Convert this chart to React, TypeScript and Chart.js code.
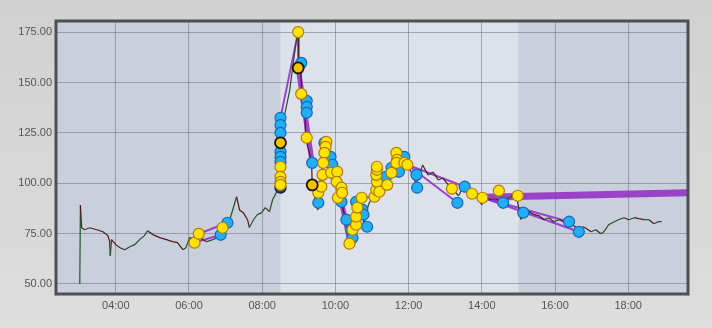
import React, { useEffect, useRef } from "react";
import { Chart, registerables } from "chart.js";

Chart.register(...registerables);

// ---- axis settings / labels ----
const yTickValues = [50, 75, 100, 125, 150, 175];
const xTickHours = [4, 6, 8, 10, 12, 14, 16, 18];
const sessionOpen = "08:30";
const sessionClose = "15:00";
const viewStart = "02:22";
const viewEnd = "19:38";
const yMin = 45;
const yMax = 180.6;

// ---- price path ----
const priceTimes = [
  "03:01", "03:02", "03:04", "03:09", "03:17", "03:29", "03:39", "03:47", "03:50", "03:51",
  "03:53", "04:00", "04:07", "04:15", "04:23", "04:31", "04:39", "04:47", "04:52", "05:01",
  "05:12", "05:23", "05:33", "05:41", "05:50", "05:55", "06:01", "06:09", "06:17", "06:29",
  "06:39", "06:47", "06:57", "07:07", "07:18", "07:23", "07:29", "07:36", "07:39", "07:46",
  "07:52", "07:59", "08:05", "08:12", "08:17", "08:23", "08:30", "08:32", "08:35", "08:45",
  "08:55", "08:59", "09:00", "09:03", "09:05", "09:10", "09:11", "09:16", "09:21", "09:22",
  "09:26", "09:31", "09:32", "09:37", "09:41", "09:44", "09:47", "09:50", "09:56", "10:01",
  "10:04", "10:10", "10:17", "10:22", "10:26", "10:33", "10:38", "10:43", "10:47", "10:54",
  "11:02", "11:07", "11:15", "11:23", "11:29", "11:37", "11:42", "11:50", "11:55", "12:02",
  "12:08", "12:12", "12:19", "12:23", "12:32", "12:40", "12:49", "12:56", "13:05", "13:13",
  "13:22", "13:31", "13:38", "13:46", "13:54", "14:00", "14:05", "14:15", "14:23", "14:31",
  "14:39", "14:48", "14:53", "14:58", "15:01", "15:04", "15:09", "15:17", "15:26", "15:34",
  "15:42", "15:50", "15:58", "16:07", "16:14", "16:23", "16:31", "16:39", "16:46", "16:52",
  "16:59", "17:07", "17:15", "17:20", "17:28", "17:37", "17:44", "17:53", "18:01", "18:10",
  "18:17", "18:26", "18:34", "18:42", "18:50", "18:55",
];
const priceValues = [
  50.0, 89.2, 77.9, 76.9, 77.9, 76.9, 75.9, 74.0, 71.0, 64.0,
  72.0, 69.5, 68.0, 67.0, 68.5, 69.5, 72.0, 74.0, 76.4, 74.5,
  73.0, 72.0, 71.0, 70.5, 67.0, 68.0, 73.0, 72.0, 73.0, 71.0,
  72.0, 73.0, 77.0, 82.0, 93.3, 86.7, 85.4, 81.9, 78.0, 82.0,
  84.4, 85.4, 87.9, 85.9, 91.8, 95.3, 98.8, 116.6, 131.5, 146.0,
  169.0, 175.1, 158.3, 159.3, 143.8, 138.9, 122.6, 116.6, 110.2, 99.2,
  93.6, 86.7, 96.7, 104.1, 116.6, 120.5, 111.6, 113.1, 106.7, 104.1,
  94.2, 90.2, 81.8, 71.9, 70.9, 84.3, 91.7, 86.7, 79.3, 89.2,
  94.2, 106.7, 96.7, 100.7, 106.7, 114.1, 106.7, 112.6, 109.1, 106.7,
  103.7, 99.2, 105.6, 109.1, 104.1, 105.6, 101.6, 102.6, 99.2, 96.7,
  93.8, 99.2, 94.2, 95.2, 92.8, 89.2, 93.3, 91.8, 92.3, 90.8,
  91.8, 93.3, 95.8, 91.8, 86.8, 82.0, 86.8, 85.9, 84.4, 83.9,
  81.9, 82.9, 80.9, 81.9, 80.9, 79.4, 78.9, 76.9, 78.4, 77.4,
  75.9, 76.9, 74.9, 75.9, 79.4, 80.9, 81.9, 82.9, 81.9, 82.9,
  82.4, 81.9, 81.9, 79.9, 80.9, 80.9,
];

// ---- buy fills (yellow) ----
const buyTimes = [
  "06:09", "06:16", "06:55", "08:30", "08:30", "08:30", "08:30", "08:59", "09:04", "09:13",
  "09:32", "09:45", "09:44", "09:42", "09:40", "09:39", "09:37", "09:53", "10:03", "10:02",
  "10:04", "10:10", "10:11", "10:23", "10:28", "10:34", "10:34", "10:36", "10:43", "11:04",
  "11:07", "11:08", "11:07", "11:08", "11:08", "11:12", "11:25", "11:32", "11:40", "11:41",
  "11:40", "11:53", "11:58", "13:11", "13:44", "14:01", "14:28", "14:59",
];
const buyValues = [
  70.5, 74.9, 77.9, 108.2, 103.2, 100.7, 99.2, 175.1, 144.4, 122.6,
  95.3, 120.6, 118.1, 115.1, 110.1, 104.2, 98.3, 105.2, 105.7, 100.7,
  92.8, 97.8, 95.3, 70.0, 76.9, 79.4, 83.4, 87.9, 92.8, 93.3,
  96.8, 100.7, 104.2, 106.7, 108.2, 95.8, 99.2, 105.2, 115.1, 111.6,
  110.1, 110.1, 109.2, 97.3, 94.8, 92.8, 96.3, 93.8,
];
// buys drawn with a dark ring
const buyRingTimes = ["08:30", "08:59", "09:22"];
const buyRingValues = [120.1, 157.3, 99.2];

// ---- sell fills (blue) ----
const sellTimes = [
  "06:52", "07:03", "08:30", "08:30", "08:30", "08:30", "08:30", "08:30", "09:04", "09:13",
  "09:13", "09:13", "09:22", "09:32", "09:42", "09:52", "09:55", "10:10", "10:18", "10:26",
  "10:28", "10:34", "10:44", "10:46", "10:52", "11:23", "11:32", "11:44", "11:53", "12:13",
  "12:14", "13:20", "13:32", "14:35", "15:08", "16:23", "16:39",
];
const sellValues = [
  74.4, 80.4, 132.5, 128.9, 125.0, 115.6, 113.1, 110.6, 159.8, 140.9,
  137.9, 135.0, 110.1, 90.3, 120.1, 113.1, 109.2, 90.8, 81.9, 76.9,
  72.9, 90.8, 86.9, 84.4, 78.4, 103.2, 107.7, 105.7, 113.1, 104.2,
  97.8, 90.3, 98.3, 90.3, 85.4, 80.9, 75.9,
];
const sellDarkTimes = ["08:30"];
const sellDarkValues = [97.8];

// ---- trade links: [entry time, entry price, exit time, exit price] ----
const closedTrades: [string, number, string, number][] = [
  ["06:09", 70.5, "06:52", 74.4],
  ["06:16", 74.9, "07:03", 80.4],
  ["08:30", 132.5, "08:59", 175.1],
  ["08:59", 175.1, "08:59", 157.3],
  ["10:43", 92.8, "11:04", 93.3],
  ["11:58", 109.2, "13:20", 90.3],
  ["11:58", 109.2, "13:32", 98.3],
  ["13:44", 94.8, "16:39", 75.9],
  ["14:01", 92.8, "16:23", 80.9],
  ["13:44", 94.8, "14:35", 90.3],
];
const heavyTrades: [string, number, string, number][] = [
  ["08:59", 157.3, "09:22", 110.1],
  ["10:10", 90.8, "10:23", 72.0],
];
const openTrades: [string, number, string, number][] = [
  ["14:01", 93.0, "19:45", 95.4],
];

const toH = (s: string) => {
  const [h, m] = s.split(":").map(Number);
  return h + m / 60;
};
const pts = (times: string[], values: number[]) =>
  times.map((t, i) => ({ x: toH(t), y: values[i] }));

const PURPLE = "rgba(150,50,200,0.9)";

export default function App() {
  const ref = useRef<HTMLCanvasElement | null>(null);

  useEffect(() => {
    if (!ref.current) return;
    const linkSets: any[] = [];
    const addLinks = (list: [string, number, string, number][], width: number) => {
      list.forEach(([t0, v0, t1, v1]) => {
        linkSets.push({
          type: "scatter",
          data: [
            { x: toH(t0), y: v0 },
            { x: toH(t1), y: v1 },
          ],
          showLine: true,
          borderColor: PURPLE,
          borderWidth: width,
          pointRadius: 0,
          order: 3,
        });
      });
    };
    addLinks(closedTrades, 2);
    addLinks(heavyTrades, 5);
    addLinks(openTrades, 7);

    const marker = (data: any[], fill: string, border: string, bw: number) => ({
      type: "scatter",
      data,
      showLine: false,
      pointRadius: 5.5,
      pointBackgroundColor: fill,
      pointBorderColor: border,
      pointBorderWidth: bw,
      order: 0,
    });

    const bgPlugin = {
      id: "bg",
      beforeDraw(chart: any) {
        const { ctx, chartArea: a, scales } = chart;
        ctx.save();
        ctx.fillStyle = "#c9d0dc";
        ctx.fillRect(a.left, a.top, a.right - a.left, a.bottom - a.top);
        const x0 = scales.x.getPixelForValue(toH(sessionOpen));
        const x1 = scales.x.getPixelForValue(toH(sessionClose));
        ctx.fillStyle = "#dde1ea";
        ctx.fillRect(x0, a.top, x1 - x0, a.bottom - a.top);
        ctx.restore();
      },
      afterDraw(chart: any) {
        const { ctx, chartArea: a } = chart;
        ctx.save();
        ctx.strokeStyle = "#4d4f52";
        ctx.lineWidth = 3;
        ctx.strokeRect(a.left, a.top, a.right - a.left, a.bottom - a.top);
        ctx.restore();
      },
    };

    const chart = new Chart(ref.current, {
      type: "scatter",
      data: {
        datasets: [
          marker(pts(buyRingTimes, buyRingValues), "#f2c200", "#1a1200", 1.8),
          marker(pts(buyTimes, buyValues), "#ffe20a", "#b07a00", 1.2),
          marker(pts(sellDarkTimes, sellDarkValues), "#1b3f9a", "#0c1a40", 1.2),
          marker(pts(sellTimes, sellValues), "#22aef2", "#1466b8", 1.2),
          {
            type: "scatter",
            data: pts(priceTimes, priceValues),
            showLine: true,
            borderWidth: 1.2,
            borderColor: "#1a1a1a",
            pointRadius: 0,
            order: 1,
            segment: {
              borderColor: (c: any) =>
                c.p1.parsed.y >= c.p0.parsed.y ? "#23512c" : "#4e1c1c",
            },
          },
          ...linkSets,
        ] as any,
      },
      options: {
        animation: false,
        responsive: false,
        events: [],
        layout: { padding: { left: 0, top: 21, right: 24, bottom: 0 } },
        plugins: { legend: { display: false }, tooltip: { enabled: false } },
        scales: {
          x: {
            type: "linear",
            min: toH(viewStart),
            max: toH(viewEnd),
            afterFit: (s: any) => {
              s.height = 34;
            },
            afterBuildTicks: (s: any) => {
              s.ticks = xTickHours.map((v) => ({ value: v }));
            },
            grid: { color: "rgba(85,95,115,0.45)", lineWidth: 1, drawTicks: false },
            border: { display: false },
            ticks: {
              padding: 5,
              color: "#555",
              font: { family: "Liberation Sans", size: 11 },
              callback: (v: any) => String(v).padStart(2, "0") + ":00",
            },
          },
          y: {
            type: "linear",
            min: yMin,
            max: yMax,
            afterFit: (s: any) => {
              s.width = 56;
            },
            afterBuildTicks: (s: any) => {
              s.ticks = yTickValues.map((v) => ({ value: v }));
            },
            grid: { color: "rgba(85,95,115,0.45)", lineWidth: 1, drawTicks: false },
            border: { display: false },
            ticks: {
              padding: 4,
              color: "#555",
              font: { family: "Liberation Sans", size: 11 },
              callback: (v: any) => Number(v).toFixed(2),
            },
          },
        },
      },
      plugins: [bgPlugin],
    });
    return () => chart.destroy();
  }, []);

  return (
    <div
      style={{
        position: "fixed",
        left: 0,
        top: 0,
        width: 712,
        height: 328,
        background: "linear-gradient(180deg, #d1d1d1 0%, #d9d9d9 70%, #dedede 100%)",
      }}
    >
      <canvas ref={ref} width={712} height={328} style={{ width: 712, height: 328, display: "block" }} />
    </div>
  );
}
